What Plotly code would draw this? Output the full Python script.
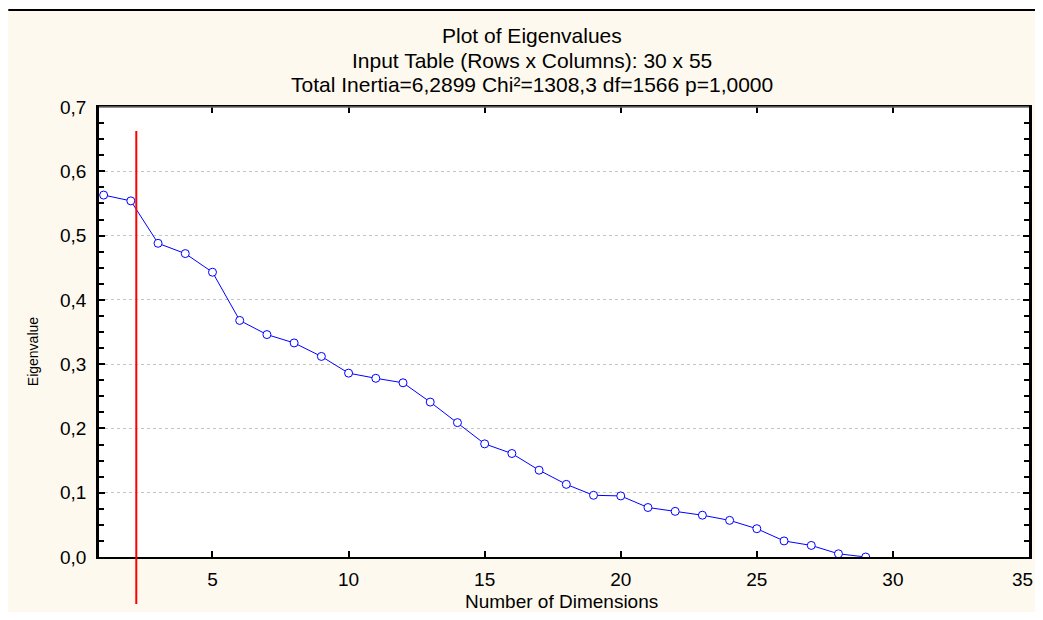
import plotly.graph_objects as go

# Data
dimensions = list(range(1, 30))
eigenvalues = [0.563, 0.554, 0.488, 0.472, 0.443, 0.368, 0.346, 0.333, 0.312, 0.286,
               0.278, 0.271, 0.241, 0.209, 0.176, 0.161, 0.135, 0.113, 0.096, 0.095,
               0.077, 0.071, 0.065, 0.057, 0.044, 0.025, 0.018, 0.005, 0.0]
cutoff_x = 2.2
x_ticks = [5, 10, 15, 20, 25, 30, 35]
y_ticks = [0.0, 0.1, 0.2, 0.3, 0.4, 0.5, 0.6, 0.7]
title_lines = ["Plot of Eigenvalues",
               "Input Table (Rows x Columns): 30 x 55",
               "Total Inertia=6,2899 Chi²=1308,3 df=1566 p=1,0000"]

# The page body has an 8px margin on every side; keep the figure inside the window.
OFF = 8
W, H = 1043 - 2 * OFF, 620 - 2 * OFF
L = 99 - OFF
R = W - (1032 - OFF)
T = 107 - OFF
B = H - (557 - OFF)
pw, ph = W - L - R, H - T - B

def px(xpage):
    return (xpage - OFF - L) / pw

def py(ypage):
    return (H - B - (ypage - OFF)) / ph

FONT = "Liberation Sans, Arial, sans-serif"
CREAM = "#fef9ee"
BLUE = "#0000ff"

fig = go.Figure()
fig.add_trace(go.Scatter(
    x=dimensions, y=eigenvalues, mode="lines+markers",
    line=dict(color=BLUE, width=1),
    marker=dict(symbol="circle", size=8, color="white", line=dict(color=BLUE, width=1)),
    showlegend=False, hoverinfo="x+y",
))

shapes = [
    # white strip above the top rule
    dict(type="rect", xref="paper", yref="paper", x0=px(0), x1=px(1050), y0=py(10), y1=py(0),
         fillcolor="white", line_width=0, layer="below"),
    # black rule at the top of the panel
    dict(type="line", xref="paper", yref="paper", x0=px(8), x1=px(1050), y0=py(10), y1=py(10),
         line=dict(color="black", width=2)),
    # gray top border of the plot box
    dict(type="line", xref="paper", yref="paper", x0=0, x1=1, y0=1, y1=1,
         line=dict(color="#6e6e6e", width=1.5)),
    # red cut-off line
    dict(type="line", xref="x", yref="paper", x0=cutoff_x, x1=cutoff_x, y0=py(604), y1=py(131),
         line=dict(color="#ff0000", width=2)),
]

annotations = []
for i, t in enumerate(title_lines):
    annotations.append(dict(text=t, xref="paper", yref="paper", x=px(533), y=py(35 + 25 * i),
                            xanchor="center", yanchor="middle", showarrow=False,
                            font=dict(family=FONT, size=21, color="black")))
annotations.append(dict(text="Eigenvalue", xref="paper", yref="paper", x=px(33), y=py(352),
                        textangle=-90, xanchor="center", yanchor="middle", showarrow=False,
                        font=dict(family=FONT, size=14, color="black")))
annotations.append(dict(text="Number of Dimensions", xref="paper", yref="paper", x=px(563), y=py(601),
                        xanchor="center", yanchor="middle", showarrow=False,
                        font=dict(family=FONT, size=19, color="black")))
# last x tick label sits at the right edge of the window: right-anchor it so it stays visible
annotations.append(dict(text=str(x_ticks[-1]), xref="x", yref="paper", x=x_ticks[-1], y=py(579),
                        xanchor="right", yanchor="middle", xshift=6, showarrow=False,
                        font=dict(family=FONT, size=19, color="black")))

x_ticktext = [str(v) for v in x_ticks[:-1]] + [""]

fig.update_layout(
    width=W, height=H,
    margin=dict(l=L, r=R, t=T, b=B, pad=0),
    paper_bgcolor=CREAM, plot_bgcolor="white",
    separators=",.",
    shapes=shapes, annotations=annotations,
    font=dict(family=FONT, size=19, color="black"),
    xaxis=dict(range=[0.83, 35], tickvals=x_ticks, ticktext=x_ticktext, ticks="inside", ticklen=6,
               tickwidth=2, tickcolor="black", showline=True, linecolor="black", linewidth=1.5,
               mirror="ticks", showgrid=False, zeroline=False, ticklabelstandoff=4,
               tickfont=dict(family=FONT, size=19, color="black")),
    yaxis=dict(range=[0, 0.7], tickvals=y_ticks, tickformat=".1f", ticks="inside", ticklen=6,
               tickwidth=1.5, tickcolor="black", showline=True, linecolor="black", linewidth=2.5,
               mirror="ticks", showgrid=True, gridcolor="#c4c4c4", griddash="dot", gridwidth=1,
               zeroline=False, ticklabelstandoff=6,
               minor=dict(dtick=0.025, ticks="inside", ticklen=5, tickcolor="black", showgrid=False),
               tickfont=dict(family=FONT, size=19, color="black")),
)

fig.write_html("out.html", config={"displayModeBar": False})
